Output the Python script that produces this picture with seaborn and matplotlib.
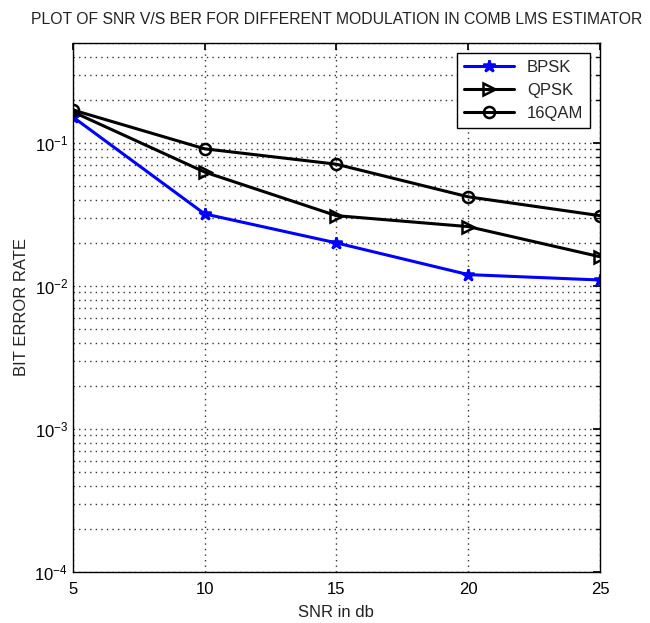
import matplotlib
matplotlib.use("Agg")
import pandas as pd
import seaborn as sns
import matplotlib.pyplot as plt
from matplotlib.ticker import LogLocator, NullFormatter

snr = [5, 10, 15, 20, 25]
ber_bpsk = [0.152, 0.0319, 0.0200, 0.0120, 0.0110]
ber_qpsk = [0.165, 0.0626, 0.0310, 0.0260, 0.0160]
ber_16qam = [0.170, 0.0910, 0.0710, 0.0420, 0.0310]

sns.set_theme(style="white")
plt.rcParams["font.family"] = ["Liberation Sans", "DejaVu Sans"]

fig = plt.figure(figsize=(6.5, 6.23), dpi=100)
ax = fig.add_axes([0.112, 0.082, 0.811, 0.849])

series = [("BPSK", ber_bpsk, "#0000ff", "*", 9),
          ("QPSK", ber_qpsk, "black", ">", 9),
          ("16QAM", ber_16qam, "black", "o", 8)]
for name, vals, col, mk, ms in series:
    df = pd.DataFrame({"snr": snr, "ber": vals})
    face = col if mk == "*" else "none"
    sns.lineplot(data=df, x="snr", y="ber", ax=ax, color=col, marker=mk,
                 markersize=ms, markerfacecolor=face, markeredgecolor=col,
                 markeredgewidth=1.8, linewidth=2.2, label=name)

ax.set_yscale("log")
ax.set_xlim(5, 25)
ax.set_ylim(1e-4, 0.5)
ax.set_xticks(snr)
ax.yaxis.set_major_locator(LogLocator(base=10, numticks=10))
ax.yaxis.set_minor_locator(LogLocator(base=10, subs=range(2, 10), numticks=20))
ax.yaxis.set_minor_formatter(NullFormatter())

# matlab style dotted grid
dots = (0, (1, 3))
ax.grid(True, which="major", axis="both", linestyle=dots, color="#333333", linewidth=1.0)
ax.grid(True, which="minor", axis="y", linestyle=dots, color="#333333", linewidth=1.0)
ax.tick_params(which="both", direction="in", top=True, right=True,
               labelsize=12, colors="black")
ax.tick_params(which="major", length=5)
ax.tick_params(which="minor", length=3)
ax.tick_params(axis="x", pad=7)
for s in ax.spines.values():
    s.set_color("black")
    s.set_linewidth(1.0)

ax.set_xlabel("SNR in db", fontsize=12, color="#222222", labelpad=6)
ax.set_ylabel("BIT ERROR RATE", fontsize=12, color="#222222")
ax.set_title("PLOT OF SNR V/S BER FOR DIFFERENT MODULATION IN COMB LMS ESTIMATOR",
             fontsize=11.3, color="#222222", pad=14)

leg = ax.legend(loc="upper right", fontsize=12, frameon=True, fancybox=False,
                edgecolor="black", framealpha=1, borderaxespad=0.6,
                handlelength=3)
leg.get_frame().set_linewidth(1.0)

fig.savefig("out.png", dpi=100)
